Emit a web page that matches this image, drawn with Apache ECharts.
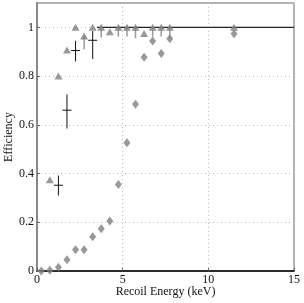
<!DOCTYPE html>
<html><head><meta charset="utf-8">
<script src="https://cdn.jsdelivr.net/npm/echarts@6/dist/echarts.min.js"></script>
<style>html,body{margin:0;padding:0;background:#fff}#c{width:304px;height:303px}</style>
</head><body><div id="c"></div>
<script>
// Diamonds (lower curve)
var diamondEnergy = [0.25,0.75,1.25,1.75,2.25,2.75,3.25,3.75,4.25,4.75,5.25,5.75,6.25,6.75,7.25,7.75,11.5];
var diamondEff    = [0.0,0.003,0.015,0.046,0.087,0.087,0.141,0.173,0.205,0.355,0.526,0.684,0.877,0.944,0.893,0.953,0.974];
// Triangles (upper curve) with lower limit lines
var triEnergy = [0.75,1.25,1.75,2.25,2.75,3.25,3.75,4.25,4.75,5.25,5.75,6.25,6.75,7.25,7.75,11.5];
var triEff    = [0.375,0.80,0.907,1.0,0.965,1.0,1.0,0.982,1.0,1.0,1.0,0.975,1.0,1.0,1.0,1.0];
var triLow    = [null,null,null,null,0.91,null,0.958,null,0.962,0.962,0.955,null,0.962,0.962,0.955,null];
// Crosses with error bars
var crossEnergy = [1.25,1.75,2.25,3.25];
var crossEff    = [0.352,0.660,0.905,0.947];
var crossLow    = [0.310,0.585,0.860,0.870];
var crossHigh   = [0.392,0.725,0.945,0.985];
// Reference line at full efficiency
var lineEnergy = [3.5,15];
var lineEff    = [1,1];
var xTicks = [0,5,10,15];

var FONT = 'Liberation Serif';
var triErr = [];
for (var i=0;i<triEnergy.length;i++) if (triLow[i]!==null) triErr.push([triEnergy[i],triEff[i],triLow[i]]);
var crossData = crossEnergy.map(function(e,i){return [e,crossEff[i],crossLow[i],crossHigh[i]];});

var chart = echarts.init(document.getElementById('c'),null,{renderer:'canvas'});
chart.setOption({
  animation:false,
  grid:{left:37,right:10,top:3,bottom:32,containLabel:false,outerBoundsMode:'none',show:true,borderColor:'#999',borderWidth:1.5,backgroundColor:'transparent'},
  xAxis:{type:'value',min:0,max:15,interval:5,
    name:'Recoil Energy (keV)',nameLocation:'middle',nameGap:15,nameMoveOverlap:false,
    nameTextStyle:{fontFamily:FONT,fontSize:12,color:'#111'},
    axisLine:{show:true,lineStyle:{color:'#000',width:1.5}},
    axisTick:{show:true,inside:true,length:3,lineStyle:{color:'#666'}},
    axisLabel:{fontFamily:FONT,fontSize:12,color:'#111',margin:3},
    splitLine:{show:true,lineStyle:{color:'#bbb',type:[1,3],width:1}}},
  yAxis:{type:'value',min:0,max:1.1,interval:0.2,
    name:'Efficiency',nameLocation:'middle',nameGap:22,nameMoveOverlap:false,
    nameTextStyle:{fontFamily:FONT,fontSize:12,color:'#111'},
    axisLine:{show:true,lineStyle:{color:'#888',width:2}},
    axisTick:{show:true,inside:true,length:3,lineStyle:{color:'#666'}},
    axisLabel:{fontFamily:FONT,fontSize:12,color:'#111',margin:3,showMaxLabel:false},
    splitLine:{show:true,lineStyle:{color:'#bbb',type:[1,3],width:1}}},
  series:[
    {type:'line',data:lineEnergy.map(function(e,i){return [e,lineEff[i]];}),symbol:'none',
      lineStyle:{color:'#222',width:1.2},z:2},
    {type:'custom',data:triErr,z:3,
      renderItem:function(params,api){
        var p1=api.coord([api.value(0),api.value(1)]), p2=api.coord([api.value(0),api.value(2)]);
        return {type:'line',shape:{x1:p1[0],y1:p1[1],x2:p2[0],y2:p2[1]},style:{stroke:'#999',lineWidth:1.5}};
      }},
    {type:'scatter',data:diamondEnergy.map(function(e,i){return [e,diamondEff[i]];}),
      symbol:'diamond',symbolSize:[7,9],itemStyle:{color:'#7f7f7f'},z:4},
    {type:'scatter',data:triEnergy.map(function(e,i){return [e,triEff[i]];}),
      symbol:'triangle',symbolSize:[8,7],itemStyle:{color:'#7f7f7f'},z:4},
    {type:'custom',data:crossData,z:5,
      renderItem:function(params,api){
        var c=api.coord([api.value(0),api.value(1)]);
        var lo=api.coord([api.value(0),api.value(2)]), hi=api.coord([api.value(0),api.value(3)]);
        return {type:'group',children:[
          {type:'line',shape:{x1:lo[0],y1:lo[1],x2:hi[0],y2:hi[1]},style:{stroke:'#111',lineWidth:1}},
          {type:'line',shape:{x1:c[0]-4.5,y1:c[1],x2:c[0]+4.5,y2:c[1]},style:{stroke:'#111',lineWidth:1}}
        ]};
      }}
  ]
});
</script></body></html>
